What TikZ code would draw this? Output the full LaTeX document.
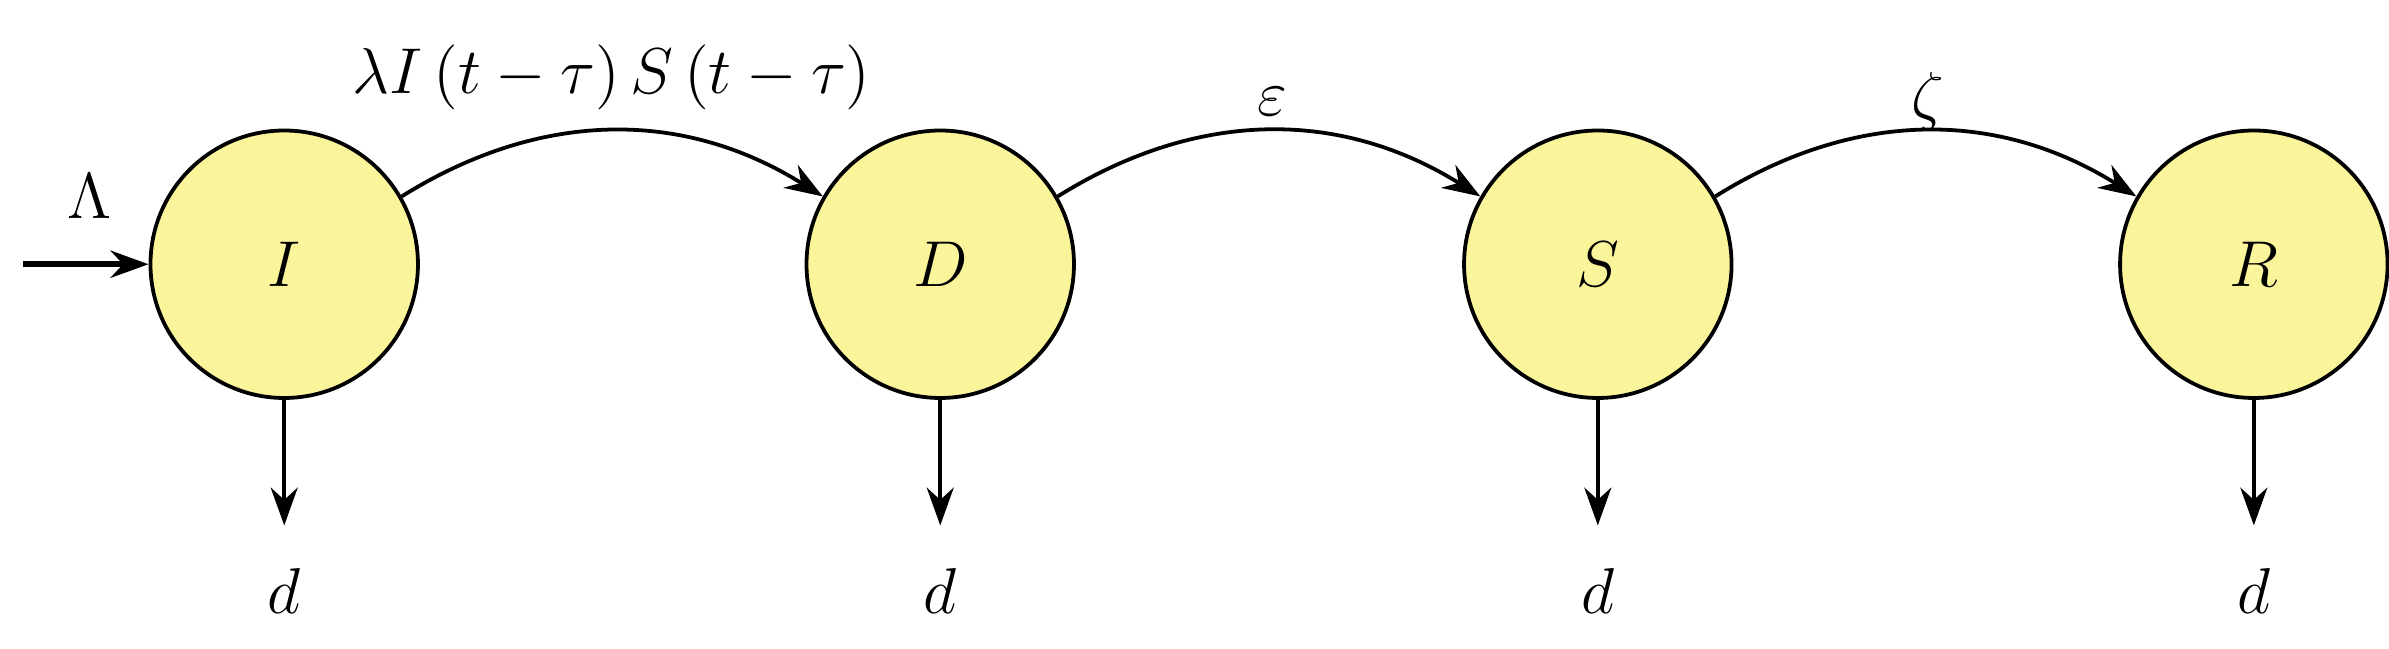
\documentclass[tikz,border=0pt]{standalone}
\usetikzlibrary{arrows.meta}
\definecolor{nodefill}{RGB}{250,245,155}
\begin{document}
\begin{tikzpicture}[x=0.01cm,y=-0.01cm,
  comp/.style={circle,draw,line width=0.7pt,fill=nodefill,minimum size=1.74cm,inner sep=0pt,font=\fontsize{12}{14}\selectfont},
  lab/.style={font=\fontsize{12}{14}\selectfont},
  flow/.style={-{Stealth[length=7pt,width=5pt]},line width=0.7pt}]
\useasboundingbox (0,0) rectangle (1555,422);
\node[comp] (I) at (185,172) {$I$};
\node[comp] (D) at (612,172) {$D$};
\node[comp] (S) at (1040,172) {$S$};
\node[comp] (R) at (1467,172) {$R$};
\coordinate (in) at (15,172);
\draw[flow,line width=1.2pt] (in) -- (I);
\node[lab] (L) at (58,128) {$\Lambda$};
\foreach \n/\x in {I/185,D/612,S/1040,R/1467}{
  \node[lab] (d\n) at (\x,385) {$d$};
  \coordinate (e\n) at (\x,342);
  \draw[flow] (\n) -- (e\n);
}
\draw[flow] (I.30) to[bend left=32] (D.150);
\draw[flow] (D.30) to[bend left=32] (S.150);
\draw[flow] (S.30) to[bend left=32] (R.150);
\node[lab] (l1) at (398,50) {$\lambda I\left(t-\tau\right)S\left(t-\tau\right)$};
\node[lab] (l2) at (828,66) {$\varepsilon$};
\node[lab] (l3) at (1255,66) {$\zeta$};
\end{tikzpicture}
\end{document}
